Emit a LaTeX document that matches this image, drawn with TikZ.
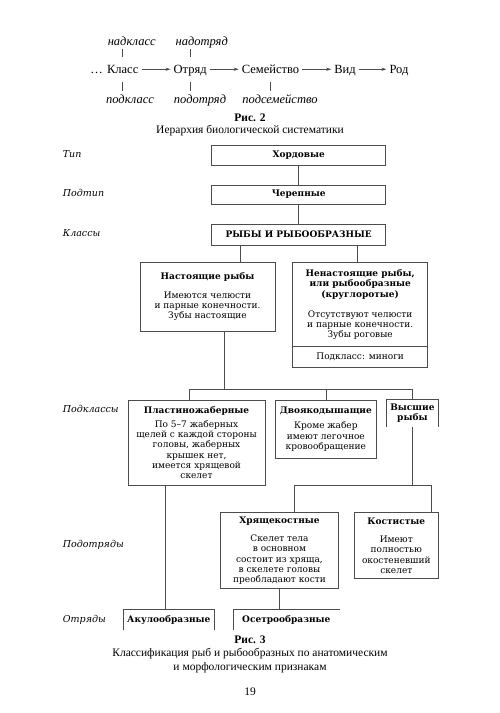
\documentclass[tikz,border=0pt]{standalone}
\usepackage{fontspec}
\setmainfont{Liberation Serif}
\newfontfamily\boxfont{DejaVu Serif}
\usetikzlibrary{arrows.meta}
\begin{document}
\begin{tikzpicture}[x=1pt,y=-1pt,
  ln/.style={line width=0.6pt, draw=black!70},
  arr/.style={ln, -{Stealth[length=5pt,width=3.2pt]}},
  box/.style={draw=black!70, line width=0.6pt, inner sep=0pt, align=center,
    font=\boxfont\fontsize{9}{10.3}\selectfont},
  openbox/.style={box, draw=none},
  lab/.style={font=\boxfont\itshape\fontsize{9.5}{11}\selectfont, anchor=west,
    inner sep=0pt, text height=7pt, text depth=2pt},
  toprow/.style={font=\fontsize{12.5}{14}\selectfont, anchor=base, inner ysep=0pt,
    inner xsep=3pt, text height=8.3pt, text depth=0pt},
  topital/.style={toprow, font=\itshape\fontsize{12.5}{14}\selectfont},
  captxt/.style={font=\fontsize{11.5}{13}\selectfont, inner sep=0pt}
]
\fill[white] (0,0) rectangle (500,713);
\useasboundingbox (0,0) rectangle (500,713);

% ---------- Fig. 2 ----------
\node[toprow] (dots) at (96.7,73.4) {\ldots};
\node[toprow] (klass) at (122.7,73.4) {Класс};
\node[toprow] (otryad) at (190.2,73.4) {Отряд};
\node[toprow] (semeistvo) at (270.5,73.4) {Семейство};
\node[toprow] (vid) at (345,73.4) {Вид};
\node[toprow] (rod) at (399,73.4) {Род};
\node[topital] (nadklass) at (131.7,45) {надкласс};
\node[topital] (nadotryad) at (201.7,45) {надотряд};
\node[topital] (podklass) at (130,103) {подкласс};
\node[topital] (podotryad) at (200,103) {подотряд};
\node[topital] (podsem) at (280,103) {подсемейство};

\draw[arr] (klass) -- (otryad);
\draw[arr] (otryad) -- (semeistvo);
\draw[arr] (semeistvo) -- (vid);
\draw[arr] (vid) -- (rod);
\draw[ln, shorten <=4pt, shorten >=8pt] (nadklass.south -| klass.north) -- (klass.north);
\draw[ln, shorten <=4pt, shorten >=8pt] (nadotryad.south -| otryad.north) -- (otryad.north);
\draw[ln, shorten <=8.3pt, shorten >=4pt] (klass.south) -- (klass.south |- podklass.north);
\draw[ln, shorten <=8.3pt, shorten >=4pt] (otryad.south) -- (otryad.south |- podotryad.north);
\draw[ln, shorten <=8.3pt, shorten >=4pt] (semeistvo.south) -- (semeistvo.south |- podsem.north);

\node[captxt] (ris2) at (250,117.3) {\bfseries Рис. 2};
\node[captxt] (cap2) at (250,130.7) {Иерархия биологической систематики};

% ---------- Fig. 3 labels ----------
\node[lab] (lTip) at (62.7,155) {Тип};
\node[lab] (lPodtip) at (62.7,194.3) {Подтип};
\node[lab] (lKlassy) at (62.7,234.3) {Классы};
\node[lab] (lPodklassy) at (62.7,410) {Подклассы};
\node[lab] (lPodotryady) at (62.7,545) {Подотряды};
\node[lab] (lOtryady) at (62.7,620) {Отряды};

% ---------- Fig. 3 boxes ----------
\node[box, minimum width=174pt, minimum height=20.7pt] (khord) at (298.7,155.35) {\textbf{Хордовые}};
\node[box, minimum width=174pt, minimum height=19.3pt] (cherep) at (298.7,194.65) {\textbf{Черепные}};
\node[box, minimum width=174pt, minimum height=21pt] (ryby) at (298.7,234.5) {\textbf{РЫБЫ И РЫБООБРАЗНЫЕ}};

\node[box, minimum width=135pt, minimum height=68.3pt] (nast) at (207.5,296.85)
  {\textbf{Настоящие рыбы}\\[8pt]Имеются челюсти\\и парные конечности.\\Зубы настоящие};
\node[box, minimum width=135pt, minimum height=84pt] (nenast) at (360.2,304.7)
  {\textbf{Ненастоящие рыбы,}\\\textbf{или рыбообразные}\\\textbf{(круглоротые)}\\[10pt]Отсутствуют челюсти\\и парные конечности.\\Зубы роговые};
\node[box, minimum width=135pt, minimum height=20.6pt] (minogi) at (360.2,357) {Подкласс: миноги};

\node[box, minimum width=137pt, minimum height=85pt] (plast) at (196.5,442.5)
  {\textbf{Пластиножаберные}\\[4pt]По 5–7 жаберных\\щелей с каждой стороны\\головы, жаберных\\крышек нет,\\имеется хрящевой\\скелет};
\node[box, minimum width=101.7pt, minimum height=58.3pt] (dvoy) at (325.85,429.15)
  {\textbf{Двоякодышащие}\\[5pt]Кроме жабер\\имеют легочное\\кровообращение};
\node[openbox, minimum width=51.8pt, minimum height=26.7pt] (vyssh) at (412.4,413.35)
  {\textbf{Высшие}\\\textbf{рыбы}};

\node[box, minimum width=117.6pt, minimum height=75.6pt] (hrya) at (279.5,550.5)
  {\textbf{Хрящекостные}\\[8pt]Скелет тела\\в основном\\состоит из хряща,\\в скелете головы\\преобладают кости};
\node[box, minimum width=84pt, minimum height=65.6pt] (kost) at (396.3,545.5)
  {\textbf{Костистые}\\[8pt]Имеют\\полностью\\окостеневший\\скелет};

\node[openbox, minimum width=91pt, minimum height=20.7pt] (akul) at (168.8,619.65) {\textbf{Акулообразные}};
\node[openbox, minimum width=106pt, minimum height=20.7pt] (osetr) at (286.3,619.65) {\textbf{Осетрообразные}};

\draw[ln] (vyssh.south west) |- (vyssh.north east) -- (vyssh.south east);
\draw[ln] (akul.south west) |- (akul.north east) -- (akul.south east);
\draw[ln] (osetr.south west) |- (osetr.north east);

% ---------- connectors ----------
\coordinate (xa) at (240,0);
\coordinate (xb) at (357.7,0);
\coordinate (j1) at (224,389);
\coordinate (xc) at (189.3,0);
\coordinate (yb) at (0,485);
\coordinate (xd) at (294.3,0);
\coordinate (xe) at (431.7,0);
\coordinate (xf) at (165.7,0);

\draw[ln] (khord) -- (cherep);
\draw[ln] (cherep) -- (ryby);
\draw[ln] (ryby.south -| xa) -- (nast.north -| xa);
\draw[ln] (ryby.south -| xb) -- (nenast.north -| xb);
\draw[ln] (nast.south -| j1) -- (j1);
\draw[ln] (plast.north -| xc) -- (xc |- j1) -- (vyssh.north |- j1) -- (vyssh.north);
\draw[ln] (dvoy.north |- j1) -- (dvoy.north);
\draw[ln] (vyssh.south) -- (vyssh.south |- yb);
\draw[ln] (hrya.north -| xd) -- (xd |- yb) -- (xe |- yb) -- (kost.north -| xe);
\draw[ln] (plast.south -| xf) -- (akul.north -| xf);
\draw[ln] (hrya.south) -- (hrya.south |- osetr.north);

% ---------- captions ----------
\node[captxt] (ris3) at (250,640) {\bfseries Рис. 3};
\node[captxt] (cap3a) at (250,654) {Классификация рыб и рыбообразных по анатомическим};
\node[captxt] (cap3b) at (250,667.3) {и морфологическим признакам};
\node[captxt] (page) at (250,691.7) {19};
\end{tikzpicture}
\end{document}
